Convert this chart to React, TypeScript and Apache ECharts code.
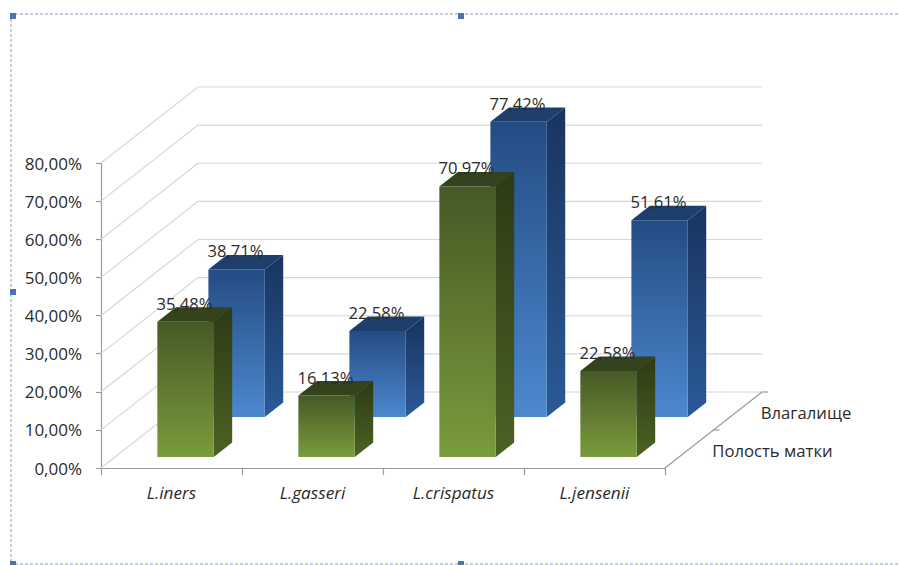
import React, { useEffect, useRef } from "react";
import * as echarts from "echarts";

// ---- data ----
const categories = ["L.iners", "L.gasseri", "L.crispatus", "L.jensenii"];
const seriesNames = ["Полость матки", "Влагалище"];
const uterusValues = [35.48, 16.13, 70.97, 22.58];
const vaginaValues = [38.71, 22.58, 77.42, 51.61];
const yTicks = [0, 10, 20, 30, 40, 50, 60, 70, 80];

// ---- 3D look ----
const DX = 97;
const DY = -76;
const BAR_DEPTH = 0.19;
const FRONT_SLOT = [0.145, 0.671];
const FONT = "'Open Sans', 'Noto Sans', sans-serif";
const TEXT = "#2b2b2b";

const fmt = (v: number) => v.toFixed(2).replace(".", ",") + "%";

const grad = (a: string, b: string) =>
  new echarts.graphic.LinearGradient(0, 0, 0, 1, [
    { offset: 0, color: a },
    { offset: 1, color: b },
  ]);

const palettes = [
  {
    front: ["#465926", "#7a9b3c"],
    side: ["#2d3a14", "#4b6224"],
    top: "#34431b",
  },
  {
    front: ["#244c84", "#4d88cf"],
    side: ["#193460", "#2a5a97"],
    top: "#1e3e6c",
  },
];

function barRenderer(sIdx: number) {
  const pal = palettes[sIdx];
  const front = FRONT_SLOT[sIdx];
  return (params: any, api: any) => {
    const idx = api.value(0);
    const val = api.value(1);
    const base = api.coord([idx, 0]);
    const top = api.coord([idx, val]);
    const bandW = api.size([1, 0])[0];
    const w = bandW * 0.4;
    const ox = DX * front;
    const oy = DY * front;
    const dx = DX * BAR_DEPTH;
    const dy = DY * BAR_DEPTH;
    const xl = base[0] - w / 2 + ox;
    const xr = xl + w;
    const yb = base[1] + oy;
    const yt = top[1] + oy;
    return {
      type: "group",
      children: [
        {
          type: "polygon",
          shape: {
            points: [
              [xr, yt],
              [xr + dx, yt + dy],
              [xr + dx, yb + dy],
              [xr, yb],
            ],
          },
          style: { fill: grad(pal.side[0], pal.side[1]) },
        },
        {
          type: "rect",
          shape: { x: xl, y: yt, width: w, height: yb - yt },
          style: { fill: grad(pal.front[0], pal.front[1]) },
        },
        {
          type: "polygon",
          shape: {
            points: [
              [xl, yt],
              [xr, yt],
              [xr + dx, yt + dy],
              [xl + dx, yt + dy],
            ],
          },
          style: { fill: pal.top },
        },
        {
          type: "text",
          x: (xl + xr) / 2 - 1,
          y: yt + dy - 4,
          style: {
            text: fmt(val),
            fill: TEXT,
            font: `16.6px ${FONT}`,
            align: "center",
            verticalAlign: "middle",
          },
        },
      ],
    };
  };
}

function wallRenderer(params: any, api: any) {
  const cs = params.coordSys;
  const v = api.value(1);
  const y = api.coord([0, v])[1];
  const x0 = cs.x;
  const x1 = cs.x + cs.width;
  const children: any[] = [
    {
      type: "polyline",
      shape: {
        points: [
          [x0, y],
          [x0 + DX, y + DY],
          [x1 + DX, y + DY],
        ],
      },
      style: { stroke: "#d6d6d6", lineWidth: 1.2, fill: null },
    },
  ];
  if (v === 0) {
    const yb = y;
    children.push({
      type: "line",
      shape: { x1: x1, y1: yb, x2: x1 + DX, y2: yb + DY },
      style: { stroke: "#9a9a9a", lineWidth: 1.2 },
    });
    const ticks = [0.5, 1];
    ticks.forEach((f) => {
      children.push({
        type: "line",
        shape: {
          x1: x1 + DX * f,
          y1: yb + DY * f,
          x2: x1 + DX * f + 6,
          y2: yb + DY * f,
        },
        style: { stroke: "#9a9a9a", lineWidth: 1.2 },
      });
    });
    seriesNames.forEach((name, i) => {
      const f = 0.25 + 0.5 * i;
      children.push({
        type: "text",
        x: x1 + DX * f + 23,
        y: yb + DY * f + 1,
        style: {
          text: name,
          fill: TEXT,
          font: `16.7px ${FONT}`,
          align: "left",
          verticalAlign: "middle",
        },
      });
    });
  }
  return { type: "group", children };
}

const frameColor = "#7f9cc6";
const handleColor = "#4a74ad";

export default function App() {
  const ref = useRef<HTMLDivElement>(null);
  useEffect(() => {
    if (!ref.current) return;
    const chart = echarts.init(ref.current, undefined, { renderer: "svg" });
    chart.setOption({
      animation: false,
      backgroundColor: "#ffffff",
      grid: { left: 101, top: 163, width: 564, height: 305, containLabel: false },
      xAxis: {
        type: "category",
        data: categories,
        axisLine: { show: true, lineStyle: { color: "#9a9a9a", width: 1.2 } },
        axisTick: { show: true, length: 7, lineStyle: { color: "#9a9a9a", width: 1.2 } },
        axisLabel: {
          margin: 16,
          fontFamily: FONT,
          fontStyle: "italic",
          fontSize: 17.2,
          color: TEXT,
        },
        splitLine: { show: false },
      },
      yAxis: {
        type: "value",
        min: 0,
        max: 80,
        interval: 10,
        axisLine: { show: true, lineStyle: { color: "#9a9a9a", width: 1.2 } },
        axisTick: { show: true, length: 5, lineStyle: { color: "#9a9a9a", width: 1.2 } },
        axisLabel: {
          margin: 19,
          fontFamily: FONT,
          fontSize: 17,
          color: TEXT,
          formatter: (v: number) => fmt(v),
        },
        splitLine: { show: false },
      },
      series: [
        {
          type: "custom",
          name: "walls",
          z: 1,
          silent: true,
          data: yTicks.map((v) => [0, v]),
          renderItem: wallRenderer,
        },
        {
          type: "custom",
          name: seriesNames[1],
          z: 2,
          data: vaginaValues.map((v, i) => [i, v]),
          renderItem: barRenderer(1),
        },
        {
          type: "custom",
          name: seriesNames[0],
          z: 3,
          data: uterusValues.map((v, i) => [i, v]),
          renderItem: barRenderer(0),
        },
      ],
      graphic: [
        {
          type: "line",
          shape: { x1: 10, y1: 14, x2: 899, y2: 14 },
          style: { stroke: frameColor, lineWidth: 1, lineDash: [3, 2] },
        },
        {
          type: "line",
          shape: { x1: 11, y1: 14, x2: 11, y2: 565 },
          style: { stroke: frameColor, lineWidth: 1, lineDash: [3, 2] },
        },
        {
          type: "line",
          shape: { x1: 10, y1: 564, x2: 899, y2: 564 },
          style: { stroke: frameColor, lineWidth: 1, lineDash: [3, 2] },
        },
        { type: "rect", shape: { x: 10, y: 13, width: 6, height: 6 }, style: { fill: handleColor } },
        { type: "rect", shape: { x: 458, y: 13, width: 6, height: 6 }, style: { fill: handleColor } },
        { type: "rect", shape: { x: 10, y: 289, width: 6, height: 6 }, style: { fill: handleColor } },
        { type: "rect", shape: { x: 10, y: 561, width: 6, height: 4 }, style: { fill: handleColor } },
        { type: "rect", shape: { x: 458, y: 561, width: 6, height: 4 }, style: { fill: handleColor } },
      ],
    });
    return () => chart.dispose();
  }, []);
  return (
    <div
      ref={ref}
      style={{ position: "absolute", left: 0, top: 0, width: 899, height: 565 }}
    />
  );
}
